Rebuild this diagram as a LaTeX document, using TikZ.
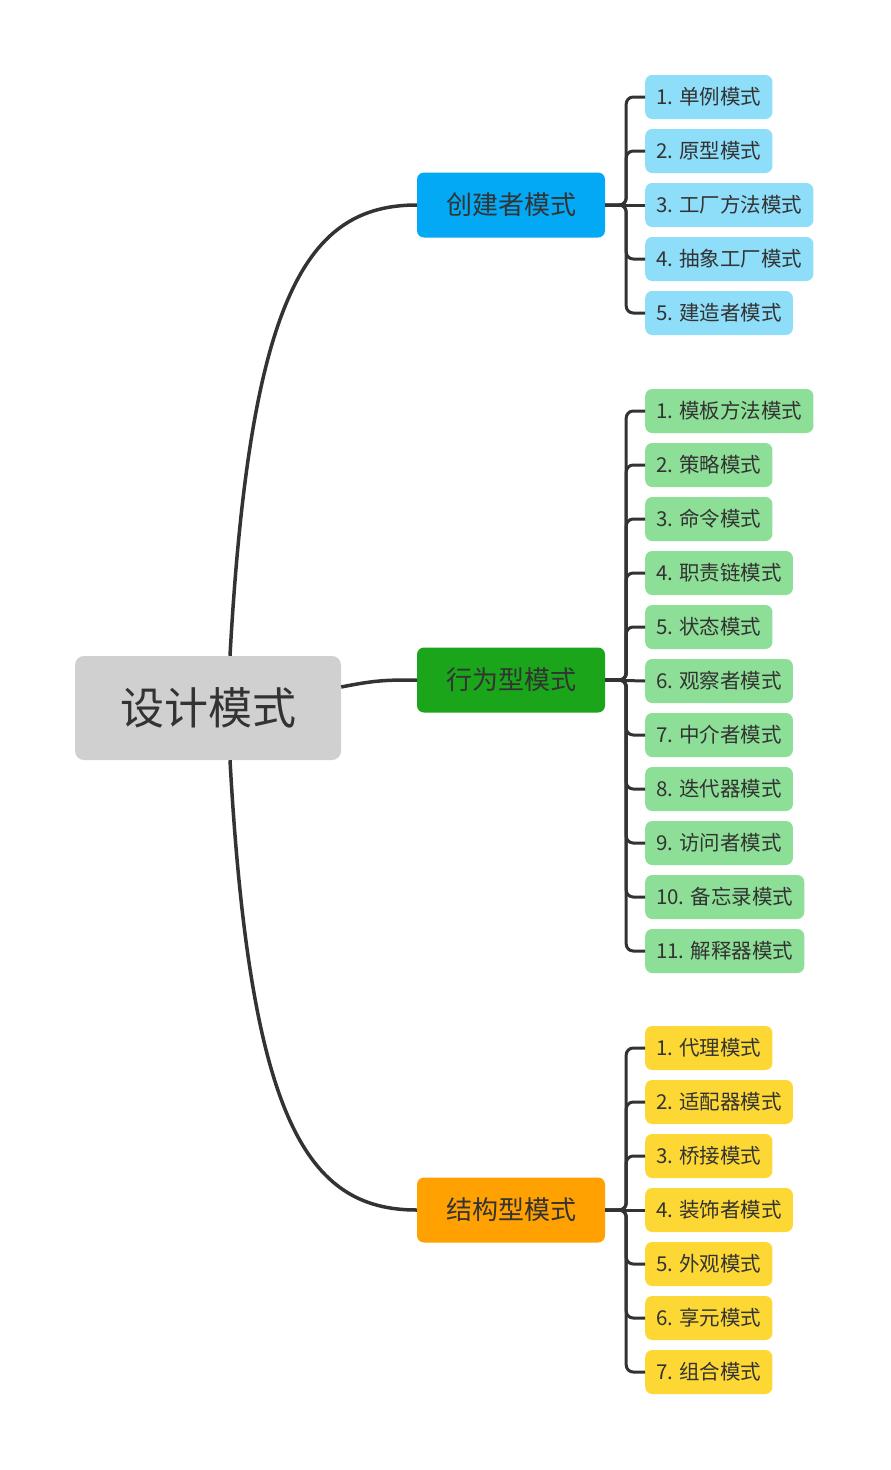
\documentclass[tikz,border=0pt]{standalone}
\usepackage{xcolor}
\usepackage{fontspec}
\newfontfamily\cjk{Noto Sans CJK SC}
\usetikzlibrary{positioning, calc}

\definecolor{txt}{HTML}{333333}
\definecolor{rootgray}{HTML}{D0D0D0}
\definecolor{cblue}{HTML}{03A9F4}
\definecolor{cbluel}{HTML}{8EDDF9}
\definecolor{cgreen}{HTML}{1AA51A}
\definecolor{cgreenl}{HTML}{8DDE96}
\definecolor{corange}{HTML}{FFA100}
\definecolor{cyellow}{HTML}{FDD835}

\begin{document}
\begin{tikzpicture}[
  x=1pt, y=-1pt,
  root/.style={rectangle, fill=rootgray, rounded corners=9pt, minimum width=266pt, minimum height=104pt, text=txt, font=\cjk\fontsize{44}{50}\selectfont},
  branch/.style={rectangle, rounded corners=7pt, minimum width=188pt, minimum height=65pt, text=txt, font=\cjk\fontsize{26}{30}\selectfont},
  leaf/.style={rectangle, rounded corners=7pt, anchor=west, inner xsep=11pt, minimum height=44pt, text=txt, font=\cjk\fontsize{20.5}{24}\selectfont},
  link/.style={draw=txt, line width=3.5pt},
  bracket/.style={draw=txt, line width=3pt, rounded corners=7pt}
]
  \useasboundingbox (0,0) rectangle (891,1470);

  \node[root] (root) at (208,708) {设计模式};

  \node[branch, fill=cblue] (create) at (511,205) {创建者模式};
  \node[branch, fill=cgreen] (behave) at (511,680) {行为型模式};
  \node[branch, fill=corange] (struct) at (511,1210) {结构型模式};

  % creational
  \node[leaf, fill=cbluel] (c1) at (645,97) {1. 单例模式};
  \node[leaf, fill=cbluel] (c2) at (645,151) {2. 原型模式};
  \node[leaf, fill=cbluel] (c3) at (645,205) {3. 工厂方法模式};
  \node[leaf, fill=cbluel] (c4) at (645,259) {4. 抽象工厂模式};
  \node[leaf, fill=cbluel] (c5) at (645,313) {5. 建造者模式};

  % behavioural
  \node[leaf, fill=cgreenl] (b1) at (645,411) {1. 模板方法模式};
  \node[leaf, fill=cgreenl] (b2) at (645,465) {2. 策略模式};
  \node[leaf, fill=cgreenl] (b3) at (645,519) {3. 命令模式};
  \node[leaf, fill=cgreenl] (b4) at (645,573) {4. 职责链模式};
  \node[leaf, fill=cgreenl] (b5) at (645,627) {5. 状态模式};
  \node[leaf, fill=cgreenl] (b6) at (645,681) {6. 观察者模式};
  \node[leaf, fill=cgreenl] (b7) at (645,735) {7. 中介者模式};
  \node[leaf, fill=cgreenl] (b8) at (645,789) {8. 迭代器模式};
  \node[leaf, fill=cgreenl] (b9) at (645,843) {9. 访问者模式};
  \node[leaf, fill=cgreenl] (b10) at (645,897) {10. 备忘录模式};
  \node[leaf, fill=cgreenl] (b11) at (645,951) {11. 解释器模式};

  % structural
  \node[leaf, fill=cyellow] (s1) at (645,1048) {1. 代理模式};
  \node[leaf, fill=cyellow] (s2) at (645,1102) {2. 适配器模式};
  \node[leaf, fill=cyellow] (s3) at (645,1156) {3. 桥接模式};
  \node[leaf, fill=cyellow] (s4) at (645,1210) {4. 装饰者模式};
  \node[leaf, fill=cyellow] (s5) at (645,1264) {5. 外观模式};
  \node[leaf, fill=cyellow] (s6) at (645,1318) {6. 享元模式};
  \node[leaf, fill=cyellow] (s7) at (645,1372) {7. 组合模式};

  % root links
  \draw[link] ([xshift=22pt]root.north) .. controls +(20,-360) and +(-110,0) .. (create.west);
  \draw[link] ([yshift=21pt]root.east) .. controls +(35,-7) and +(-30,0) .. (behave.west);
  \draw[link] ([xshift=22pt]root.south) .. controls +(20,360) and +(-110,0) .. (struct.west);

  \draw[bracket] (create.east) -- ++(21,0) |- (c1.west);
  \draw[bracket] (create.east) -- ++(21,0) |- (c2.west);
  \draw[bracket] (create.east) -- (c3.west);
  \draw[bracket] (create.east) -- ++(21,0) |- (c4.west);
  \draw[bracket] (create.east) -- ++(21,0) |- (c5.west);

  \draw[bracket] (behave.east) -- ++(21,0) |- (b1.west);
  \draw[bracket] (behave.east) -- ++(21,0) |- (b2.west);
  \draw[bracket] (behave.east) -- ++(21,0) |- (b3.west);
  \draw[bracket] (behave.east) -- ++(21,0) |- (b4.west);
  \draw[bracket] (behave.east) -- ++(21,0) |- (b5.west);
  \draw[bracket] (behave.east) -- (b6.west);
  \draw[bracket] (behave.east) -- ++(21,0) |- (b7.west);
  \draw[bracket] (behave.east) -- ++(21,0) |- (b8.west);
  \draw[bracket] (behave.east) -- ++(21,0) |- (b9.west);
  \draw[bracket] (behave.east) -- ++(21,0) |- (b10.west);
  \draw[bracket] (behave.east) -- ++(21,0) |- (b11.west);

  \draw[bracket] (struct.east) -- ++(21,0) |- (s1.west);
  \draw[bracket] (struct.east) -- ++(21,0) |- (s2.west);
  \draw[bracket] (struct.east) -- ++(21,0) |- (s3.west);
  \draw[bracket] (struct.east) -- (s4.west);
  \draw[bracket] (struct.east) -- ++(21,0) |- (s5.west);
  \draw[bracket] (struct.east) -- ++(21,0) |- (s6.west);
  \draw[bracket] (struct.east) -- ++(21,0) |- (s7.west);
\end{tikzpicture}
\end{document}
